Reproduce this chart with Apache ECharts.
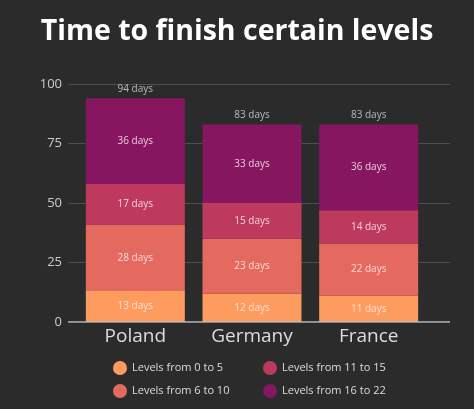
<!DOCTYPE html>
<html><head><meta charset="utf-8">
<script src="https://cdn.jsdelivr.net/npm/echarts@6/dist/echarts.min.js"></script>
<style>html,body{margin:0;padding:0;background:#2b2b2b;}#c{width:474px;height:409px;}</style>
</head><body><div id="c"></div>
<script>
const categories = ['Poland', 'Germany', 'France'];
const levels0to5 = [13, 12, 11];
const levels6to10 = [28, 23, 22];
const levels11to15 = [17, 15, 14];
const levels16to22 = [36, 33, 36];
const seriesNames = ['Levels from 0 to 5', 'Levels from 6 to 10', 'Levels from 11 to 15', 'Levels from 16 to 22'];
const yTicks = [0, 25, 50, 75, 100];
const colors = ['#FD9C5E', '#E46A60', '#BD3A5E', '#861660'];
const totals = categories.map((c, i) => levels0to5[i] + levels6to10[i] + levels11to15[i] + levels16to22[i]);

const font = '"Open Sans", sans-serif';
const chart = echarts.init(document.getElementById('c'));
const segData = [levels0to5, levels6to10, levels11to15, levels16to22];
const barSeries = segData.map((d, k) => ({
  name: seriesNames[k], type: 'bar', stack: 'all', xAxisIndex: 1, yAxisIndex: 1,
  data: d, barWidth: 99, itemStyle: { color: colors[k] },
  label: { show: true, position: 'inside', formatter: p => p.value + ' days',
    color: 'rgba(255,235,235,0.85)', fontSize: 10, fontFamily: font }
}));
barSeries.push({
  name: 'total', type: 'scatter', xAxisIndex: 1, yAxisIndex: 1, symbolSize: 0,
  data: totals, silent: true,
  label: { show: true, position: 'top', distance: 4, formatter: p => p.value + ' days',
    color: '#dddddd', fontSize: 10, fontFamily: font }
});
chart.setOption({
  backgroundColor: '#2b2b2b',
  animation: false,
  title: { text: 'Time to finish certain levels', left: 'center', top: 12,
    textStyle: { color: '#ffffff', fontSize: 28.5, fontWeight: 'bold', fontFamily: font } },
  legend: [
    { data: seriesNames.slice(0, 2), orient: 'vertical', left: 108, top: 356, itemGap: 9,
      icon: 'circle', itemWidth: 14, itemHeight: 14,
      textStyle: { color: '#dddddd', fontSize: 11, fontFamily: font } },
    { data: seriesNames.slice(2, 4), orient: 'vertical', left: 258, top: 356, itemGap: 9,
      icon: 'circle', itemWidth: 14, itemHeight: 14,
      textStyle: { color: '#dddddd', fontSize: 11, fontFamily: font } }
  ],
  grid: [
    { left: 68, right: 24, top: 84, bottom: 87 },
    { left: 77, right: 47, top: 84, bottom: 87 }
  ],
  xAxis: [
    { type: 'value', gridIndex: 0, min: 0, max: 1, show: true,
      axisLine: { show: false }, axisTick: { show: false }, axisLabel: { show: false }, splitLine: { show: false } },
    { type: 'category', gridIndex: 1, data: categories,
      axisLine: { show: false }, axisTick: { show: false },
      axisLabel: { color: '#dddddd', fontSize: 19, margin: 5, fontFamily: font } }
  ],
  yAxis: [
    { type: 'value', gridIndex: 0, min: yTicks[0], max: yTicks[yTicks.length - 1], interval: 25,
      axisLine: { show: false }, axisTick: { show: false },
      axisLabel: { color: '#cccccc', fontSize: 13, margin: 6, fontFamily: font },
      splitLine: { lineStyle: { color: '#4f4f4f', width: 1 } } },
    { type: 'value', gridIndex: 1, min: 0, max: 100, show: false }
  ],
  series: barSeries.concat([{
    type: 'line', xAxisIndex: 0, yAxisIndex: 0, data: [[0, 0], [1, 0]], symbol: 'none', silent: true,
    lineStyle: { color: '#bbbbbb', width: 1.5 }, z: 10
  }])
});
</script></body></html>
